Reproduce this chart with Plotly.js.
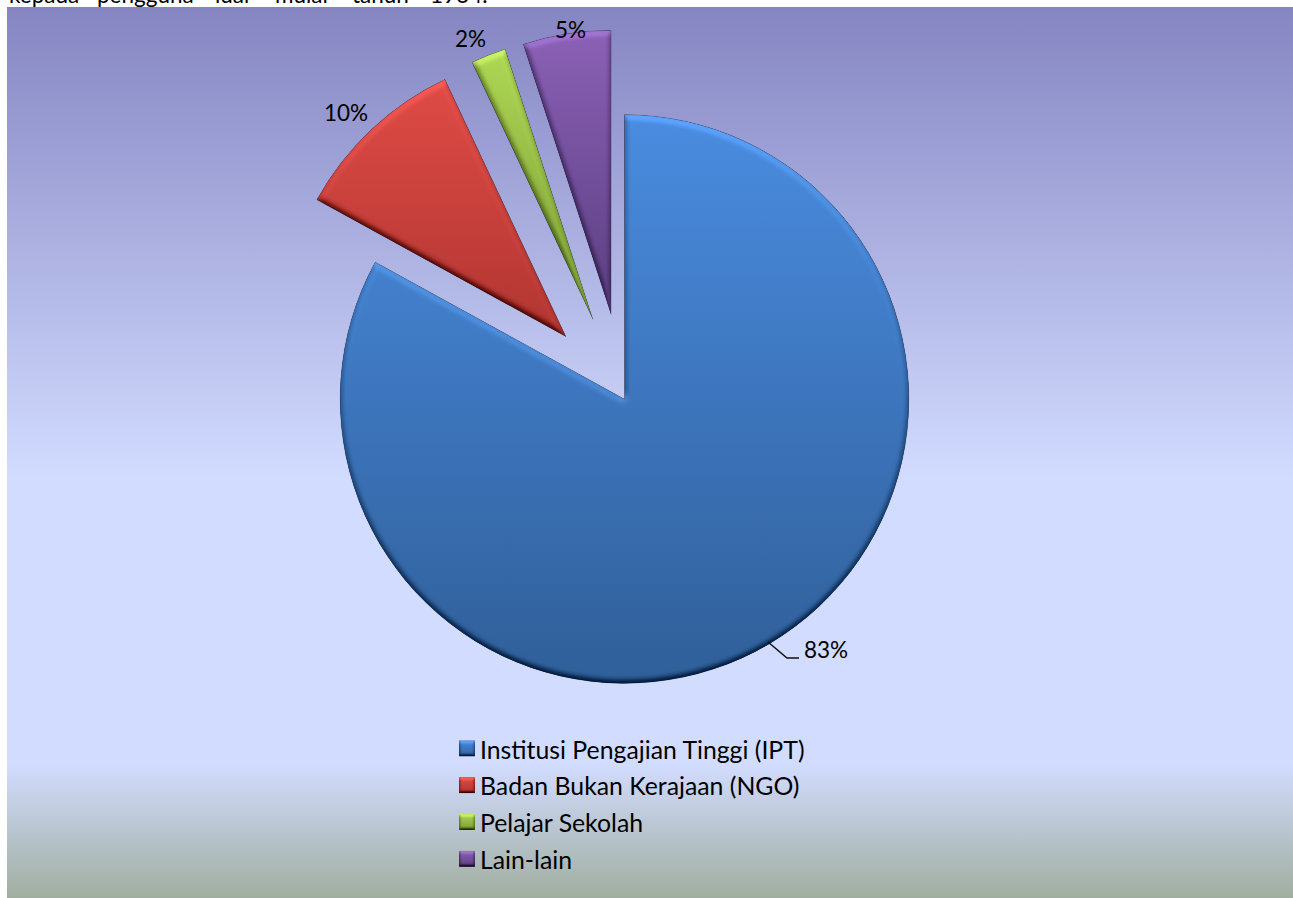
<!DOCTYPE html>
<html>
<head>
<meta charset="utf-8">
<script src="https://cdn.plot.ly/plotly-3.0.1.min.js"></script>
<style>
html,body{margin:0;padding:0;background:#fff;overflow:hidden}
#chart{width:1293px;height:898px;
background:linear-gradient(to bottom,#8585c2 0px,#d2dcff 473px,#d2dcff 757px,#a0ae9f 891px) no-repeat 7px 7px;}
</style>
</head>
<body>
<svg width="0" height="0" style="position:absolute">
<defs>
<linearGradient id="g0" x1="0" y1="0" x2="0" y2="1"><stop offset="0" stop-color="#4a8cdf"/><stop offset="1" stop-color="#305f99"/></linearGradient>
<linearGradient id="g1" x1="0" y1="0" x2="0" y2="1"><stop offset="0" stop-color="#de4b46"/><stop offset="1" stop-color="#b03531"/></linearGradient>
<linearGradient id="g2" x1="0" y1="0" x2="0" y2="1"><stop offset="0" stop-color="#aed654"/><stop offset="1" stop-color="#7a9a35"/></linearGradient>
<linearGradient id="g3" x1="0" y1="0" x2="0" y2="1"><stop offset="0" stop-color="#8b61b6"/><stop offset="1" stop-color="#5a3e80"/></linearGradient>
<filter id="bevel" x="-5%" y="-5%" width="110%" height="110%" color-interpolation-filters="sRGB">
<feGaussianBlur in="SourceAlpha" stdDeviation="3" result="b"/>
<feDiffuseLighting in="b" surfaceScale="3.2" diffuseConstant="0.81" lighting-color="#fff" result="l"><feDistantLight azimuth="270" elevation="60"/></feDiffuseLighting>
<feComposite in="SourceGraphic" in2="l" operator="arithmetic" k1="1" k2="0.3" k3="0.3" k4="-0.21" result="c"/>
<feComposite in="c" in2="SourceAlpha" operator="in"/>
</filter>
<filter id="bevelS" x="-10%" y="-10%" width="120%" height="120%" color-interpolation-filters="sRGB">
<feGaussianBlur in="SourceAlpha" stdDeviation="1.6" result="b"/>
<feDiffuseLighting in="b" surfaceScale="2" diffuseConstant="0.81" lighting-color="#fff" result="l"><feDistantLight azimuth="270" elevation="60"/></feDiffuseLighting>
<feComposite in="SourceGraphic" in2="l" operator="arithmetic" k1="1" k2="0.3" k3="0.3" k4="-0.21" result="c"/>
<feComposite in="c" in2="SourceAlpha" operator="in"/>
</filter>
</defs>
</svg>
<div id="chart"></div>
<script>
const categories = ['Institusi Pengajian Tinggi (IPT)', 'Badan Bukan Kerajaan (NGO)', 'Pelajar Sekolah', 'Lain-lain'];
const values = [83, 10, 2, 5];
const pulls = [0, 0.3, 0.3, 0.3];
const sliceColors = ['#3d76bd', '#c73f3b', '#95b944', '#73509c'];
const topWords = ['kepada', 'pengguna', 'luar', 'mulai', 'tahun', '1964.'];
const topWordX = [7, 95, 213, 273, 350, 428];
const labelX = [826, 346, 470, 570];
const labelY = [649, 113, 38, 30];

const W = 1293, H = 898;
const FONT = 'Lato, Carlito, sans-serif';
const px = x => x / W, py = y => 1 - y / H;
const cx = 624.5, cy = 399, box = 739.7;

const annotations = values.map((v, i) => ({
  text: v + '%', xref: 'paper', yref: 'paper', x: px(labelX[i]), y: py(labelY[i]),
  xanchor: 'center', yanchor: 'middle', showarrow: false,
  font: {family: FONT, size: 22.5, color: '#000'}
})).concat(topWords.map((w, i) => ({
  text: w, xref: 'paper', yref: 'paper', x: px(topWordX[i]), y: py(10),
  xanchor: 'left', yanchor: 'bottom', showarrow: false,
  font: {family: FONT, size: 22.5, color: '#000'}
})));

const data = [{
  type: 'pie', labels: categories, values: values, pull: pulls, sort: false,
  direction: 'clockwise', rotation: 0, textinfo: 'none', hoverinfo: 'none',
  domain: {x: [px(cx - box / 2), px(cx + box / 2)], y: [py(cy + box / 2), py(cy - box / 2)]},
  marker: {colors: sliceColors, line: {color: 'rgba(20,20,40,0.3)', width: 1}}
}];

const layout = {
  width: W, height: H, margin: {l: 0, r: 0, t: 0, b: 0},
  paper_bgcolor: 'rgba(0,0,0,0)', plot_bgcolor: 'rgba(0,0,0,0)',
  font: {family: FONT, color: '#000'},
  showlegend: true,
  legend: {x: px(440), y: py(725), xanchor: 'left', yanchor: 'top', bgcolor: 'rgba(0,0,0,0)',
           font: {family: FONT, size: 26, color: '#000'}},
  annotations: annotations,
  shapes: [{type: 'path', xref: 'paper', yref: 'paper', layer: 'above',
    path: `M${px(768)},${py(642)} L${px(787)},${py(658)} L${px(799)},${py(658)}`,
    line: {color: '#111', width: 1.5}}]
};

Plotly.newPlot('chart', data, layout, {displayModeBar: false, staticPlot: true}).then(() => {
  document.querySelectorAll('.pielayer path.surface').forEach((p, i) => {
    p.style.fill = `url(#g${i})`;
    p.setAttribute('filter', 'url(#bevel)');
  });
  document.querySelectorAll('.legend .legendtext').forEach(t => { t.style.fontSize = '24.8px'; });
  document.querySelectorAll('.legend path.legendpie').forEach((p, i) => {
    p.setAttribute('d', 'M8,8V-8H-8V8Z');
    p.setAttribute('transform', (p.getAttribute('transform') || '') + ' translate(7,0)');
    p.style.fill = `url(#g${i})`;
    p.style.strokeWidth = '0';
    p.setAttribute('filter', 'url(#bevelS)');
  });
});
</script>
</body>
</html>
